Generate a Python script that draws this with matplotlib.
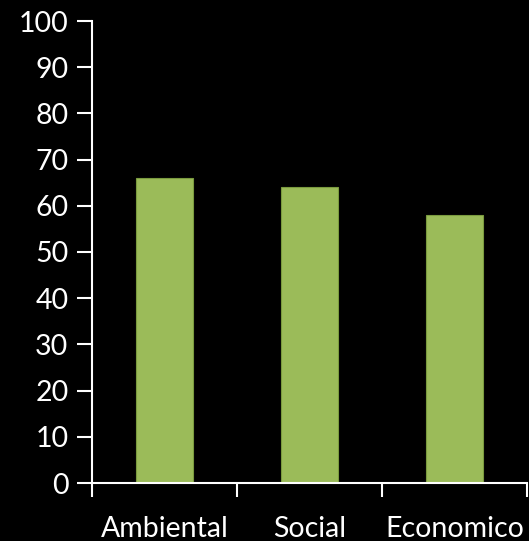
import matplotlib
matplotlib.use('Agg')
import matplotlib.pyplot as plt
from matplotlib.ticker import FixedLocator

plt.rcParams['font.family'] = 'Lato'

categories = ['Ambiental', 'Social', 'Economico']
values = [66, 64, 58]
y_ticks = list(range(0, 101, 10))

fig = plt.figure(figsize=(5.29, 5.41), dpi=100)
fig.patch.set_facecolor('black')
ax = fig.add_axes([92/529, 58/541, 435/529, 462/541])
ax.set_facecolor('black')

x = range(len(categories))
ax.bar(x, values, width=0.39, color='#9BBB59', edgecolor='#7A9A3E', linewidth=0.8, zorder=2)

ax.set_xlim(-0.5, len(categories) - 0.5)
ax.set_ylim(0, 100)
ax.set_yticks(y_ticks)

# category labels centred, tick marks between categories
ax.set_xticks(list(x))
ax.set_xticklabels(categories)
ax.tick_params(axis='x', which='major', length=0, pad=24)
ax.xaxis.set_minor_locator(FixedLocator([i - 0.5 for i in range(len(categories) + 1)]))
ax.tick_params(axis='x', which='minor', length=10, width=1.5, color='white', direction='out')
ax.tick_params(axis='y', length=11, width=1.5, color='white', direction='out', pad=6)

ax.tick_params(labelcolor='white', labelsize=20.5)

for side in ['top', 'right']:
    ax.spines[side].set_visible(False)
for side in ['left', 'bottom']:
    ax.spines[side].set_color('white')
    ax.spines[side].set_linewidth(1.5)

plt.savefig('out.png', dpi=100, facecolor='black')
